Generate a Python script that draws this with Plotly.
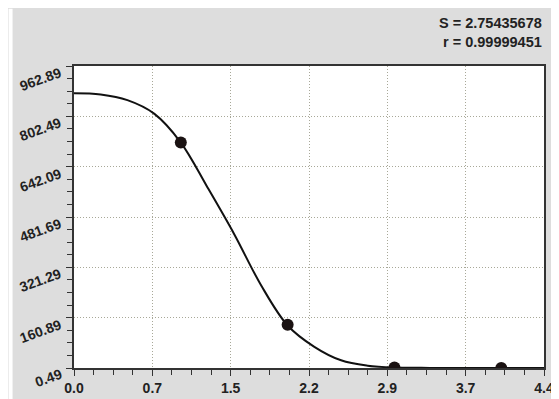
import plotly.graph_objects as go

# Measured data points
point_x = [1, 2, 3, 4]
point_y = [719, 138, 2, 0.5]

# Fitted curve
curve_x = [0.0, 0.25, 0.5, 0.75, 1.0, 1.25, 1.5, 1.75, 2.0, 2.25, 2.5, 2.75, 3.0, 3.25, 3.5, 4.0, 4.4]
curve_y = [876, 872, 854, 811, 719, 576, 427, 265, 136, 68, 25, 8, 2, 1, 0.6, 0.5, 0.5]

x_tickvals = [0.0, 4.4 / 6, 2 * 4.4 / 6, 2.2, 4 * 4.4 / 6, 5 * 4.4 / 6, 4.4]
x_ticktext = ["0.0", "0.7", "1.5", "2.2", "2.9", "3.7", "4.4"]
y_tickvals = [0.49, 160.89, 321.29, 481.69, 642.09, 802.49, 962.89]
y_ticktext = ["0.49", "160.89", "321.29", "481.69", "642.09", "802.49", "962.89"]

stats_text = ["S = 2.75435678", "r = 0.99999451"]

W, H = 559, 399
# the page body adds an 8px offset, so figure coords = page coords - 8
L, R, T, B = 65.5, 23, 57.5, 38.7
PW, PH = W - L - R, H - T - B

fig = go.Figure()
fig.add_trace(go.Scatter(x=curve_x, y=curve_y, mode="lines",
                         line=dict(color="#111111", width=2, shape="spline", smoothing=1.0),
                         hoverinfo="skip", showlegend=False))
fig.add_trace(go.Scatter(x=point_x, y=point_y, mode="markers",
                         marker=dict(color="#1a1212", size=12, symbol="circle"),
                         showlegend=False))

xfont = dict(family="Liberation Sans, Arial", size=14, color="#222222", weight="bold")
yfont = dict(family="Liberation Sans, Arial", size=14, color="#222222", weight="bold")

annotations = [
    dict(text="<b>" + stats_text[0] + "</b><br><b>" + stats_text[1] + "</b>",
         xref="paper", yref="paper", x=1, y=1 + (T - 4) / PH,
         xanchor="right", yanchor="top", align="right", showarrow=False,
         font=dict(family="Liberation Sans, Arial", size=14.5, color="#222222"))
]
# tilted y tick labels hanging just below their ticks
for v, t in zip(y_tickvals, y_ticktext):
    annotations.append(dict(text=t, xref="paper", yref="y", x=0, y=v,
                            xanchor="right", yanchor="top", xshift=-9, yshift=3,
                            textangle=-20, showarrow=False, font=yfont,
                            borderpad=0))

grid = dict(showgrid=True, gridcolor="#a8a898", griddash="1px,2px", gridwidth=1)

fig.update_layout(
    width=W, height=H,
    margin=dict(l=L, r=R, t=T, b=B, pad=0, autoexpand=False),
    paper_bgcolor="#dddddd",
    plot_bgcolor="white",
    font=dict(family="Liberation Sans, Arial", size=12, color="#222222"),
    shapes=[
        # white strip on the left
        dict(type="rect", xref="paper", yref="paper", layer="below",
             x0=-L / PW, x1=-L / PW + 4 / PW, y0=-B / PH, y1=1 + T / PH,
             fillcolor="white", line=dict(width=0)),
    ],
    xaxis=dict(range=[0, 4.4], tickvals=x_tickvals, ticktext=x_ticktext,
               tickfont=xfont, automargin=False,
               showline=True, linecolor="#333333", linewidth=2, mirror=True,
               ticks="outside", ticklen=6, tickcolor="#333333", tickwidth=1,
               minor=dict(ticks="outside", ticklen=5, tickcolor="#333333", showgrid=False,
                          dtick=4.4 / 24, tick0=0),
               zeroline=False, fixedrange=True, **grid),
    yaxis=dict(range=[0.49, 962.89], tickvals=y_tickvals, showticklabels=False,
               automargin=False,
               showline=True, linecolor="#333333", linewidth=2, mirror=True,
               ticks="outside", ticklen=6, tickcolor="#333333", tickwidth=1,
               minor=dict(ticks="outside", ticklen=5, tickcolor="#333333", showgrid=False,
                          dtick=160.4 / 4, tick0=0.49),
               zeroline=False, fixedrange=True, **grid),
    annotations=annotations,
)

fig.write_html("out.html")
